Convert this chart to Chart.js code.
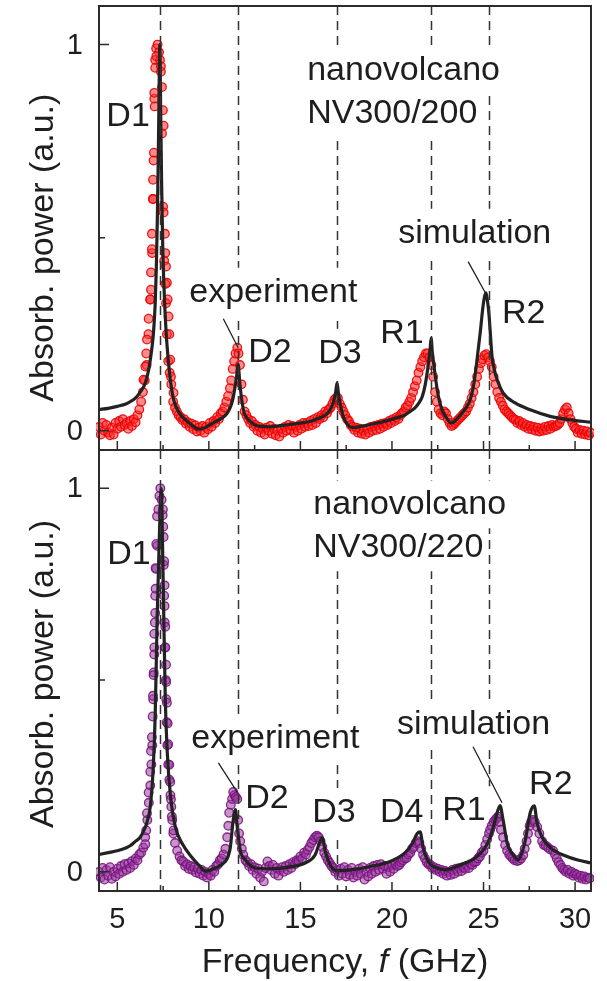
<!DOCTYPE html>
<html>
<head>
<meta charset="utf-8">
<script src="https://cdn.jsdelivr.net/npm/chart.js@4.4.1/dist/chart.umd.min.js"></script>
<style>
  html, body { margin: 0; padding: 0; background: #fff; }
  #wrap { position: relative; width: 607px; height: 981px; }
  canvas { position: absolute; left: 0; }
  #topChart { top: 0; }
  #bottomChart { top: 440px; }
</style>
</head>
<body>
<div id="wrap">
  <canvas id="topChart" width="607" height="460"></canvas>
  <canvas id="bottomChart" width="607" height="541"></canvas>
</div>
<script>
// ---- data (frequency in GHz, normalised absorbed power) ----

// dashed lines marking the NV300/200 mode positions
const modeLines = [7.35, 11.6, 17.0, 22.14, 25.3];

const xMajor = [5, 10, 15, 20, 25, 30];
const xMinor = [7.5, 12.5, 17.5, 22.5, 27.5];
const yMajor = [0, 1];
const yMinor = [0.5];

// NV300/200 simulation
const simTopFreq = [4.0, 4.5, 5.0, 5.5, 5.7, 6.0, 6.25, 6.5, 6.7, 6.85,
  6.97, 7.07, 7.13, 7.19, 7.24, 7.28, 7.32, 7.37, 7.42, 7.48,
  7.56, 7.66, 7.77, 7.9, 8.04, 8.2, 8.38, 8.6, 8.93, 9.2,
  9.42, 9.8, 10.08, 10.4, 10.73, 11.0, 11.17, 11.3, 11.4, 11.5,
  11.6, 11.68, 11.77, 11.93, 12.1, 12.26, 12.5, 12.8, 13.35, 13.9,
  14.44, 15.0, 15.53, 16.0, 16.35, 16.6, 16.79, 16.92, 17.0, 17.08,
  17.17, 17.34, 17.6, 17.88, 18.3, 18.81, 19.4, 19.9, 20.3, 20.72,
  21.0, 21.27, 21.5, 21.65, 21.82, 21.98, 22.08, 22.14, 22.2, 22.3,
  22.47, 22.6, 22.74, 22.95, 23.15, 23.29, 23.5, 23.83, 24.1, 24.27,
  24.45, 24.6, 24.81, 24.98, 25.08, 25.14, 25.22, 25.3, 25.47, 25.58,
  25.69, 26.07, 26.73, 27.55, 28.64, 29.73, 30.87];
const simTopVal = [0.055, 0.058, 0.063, 0.07, 0.075, 0.085, 0.1, 0.12, 0.155, 0.2,
  0.25, 0.33, 0.42, 0.56, 0.72, 0.87, 1.0, 0.82, 0.64, 0.48,
  0.36, 0.26, 0.19, 0.13, 0.088, 0.063, 0.046, 0.033, 0.02, 0.01,
  0.004, 0.008, 0.016, 0.024, 0.033, 0.045, 0.06, 0.08, 0.105, 0.135,
  0.172, 0.13, 0.089, 0.046, 0.032, 0.024, 0.015, 0.011, 0.01, 0.013,
  0.016, 0.02, 0.024, 0.032, 0.04, 0.052, 0.072, 0.098, 0.124, 0.095,
  0.07, 0.037, 0.014, 0.008, 0.011, 0.016, 0.022, 0.028, 0.034, 0.041,
  0.05, 0.06, 0.074, 0.088, 0.12, 0.17, 0.21, 0.24, 0.205, 0.166,
  0.106, 0.075, 0.054, 0.035, 0.022, 0.02, 0.028, 0.046, 0.063, 0.08,
  0.115, 0.166, 0.25, 0.325, 0.352, 0.357, 0.335, 0.3, 0.19, 0.16,
  0.14, 0.098, 0.072, 0.054, 0.037, 0.028, 0.022];

// NV300/200 experiment
const expTopFreq = [4.0, 4.1, 4.2, 4.3, 4.4, 4.5, 4.6, 4.7, 4.8, 4.9,
  5.0, 5.1, 5.2, 5.3, 5.4, 5.5, 5.6, 5.7, 5.8, 5.9,
  6.0, 6.1, 6.2, 6.3, 6.4, 6.5, 6.6, 6.7, 6.8, 6.9,
  6.95, 7.0, 7.02, 7.07, 7.12, 7.2, 7.28, 7.33, 7.38, 7.44,
  7.5, 7.56, 7.62, 7.66, 7.71, 7.78, 7.86, 7.95, 8.05, 8.15,
  8.25, 8.35, 8.45, 8.55, 8.65, 8.75, 8.85, 8.95, 9.05, 9.15,
  9.25, 9.35, 9.45, 9.55, 9.65, 9.75, 9.85, 9.95, 10.05, 10.15,
  10.25, 10.35, 10.45, 10.55, 10.65, 10.75, 10.85, 10.95, 11.05, 11.15,
  11.22, 11.3, 11.38, 11.46, 11.55, 11.62, 11.7, 11.78, 11.86, 11.95,
  12.05, 12.15, 12.25, 12.35, 12.45, 12.55, 12.65, 12.75, 12.85, 12.95,
  13.05, 13.15, 13.25, 13.35, 13.45, 13.55, 13.65, 13.75, 13.85, 13.95,
  14.05, 14.15, 14.25, 14.35, 14.45, 14.55, 14.65, 14.75, 14.85, 14.95,
  15.05, 15.15, 15.25, 15.35, 15.45, 15.55, 15.65, 15.75, 15.85, 15.95,
  16.05, 16.15, 16.25, 16.35, 16.45, 16.55, 16.65, 16.75, 16.85, 16.95,
  17.05, 17.15, 17.25, 17.35, 17.45, 17.55, 17.65, 17.75, 17.85, 17.95,
  18.05, 18.15, 18.25, 18.35, 18.45, 18.55, 18.65, 18.75, 18.85, 18.95,
  19.05, 19.15, 19.25, 19.35, 19.45, 19.55, 19.65, 19.75, 19.85, 19.95,
  20.05, 20.15, 20.25, 20.35, 20.45, 20.55, 20.65, 20.75, 20.85, 20.95,
  21.05, 21.15, 21.25, 21.35, 21.45, 21.55, 21.65, 21.75, 21.85, 21.95,
  22.05, 22.15, 22.25, 22.35, 22.45, 22.55, 22.65, 22.75, 22.85, 22.95,
  23.05, 23.15, 23.25, 23.35, 23.45, 23.55, 23.65, 23.75, 23.85, 23.95,
  24.05, 24.15, 24.25, 24.35, 24.45, 24.55, 24.65, 24.75, 24.85, 24.95,
  25.05, 25.15, 25.25, 25.35, 25.45, 25.55, 25.65, 25.75, 25.85, 25.95,
  26.05, 26.15, 26.25, 26.35, 26.45, 26.55, 26.65, 26.75, 26.85, 26.95,
  27.05, 27.15, 27.25, 27.35, 27.45, 27.55, 27.65, 27.75, 27.85, 27.95,
  28.05, 28.15, 28.25, 28.35, 28.45, 28.55, 28.65, 28.75, 28.85, 28.95,
  29.05, 29.15, 29.25, 29.35, 29.45, 29.55, 29.65, 29.75, 29.85, 29.95,
  30.05, 30.15, 30.25, 30.35, 30.45, 30.55, 30.65, 30.75, 30.85];
const expTopVal = [0.01, -0.01, 0.02, 0, 0.015, -0.005, -0.012, 0.008, -0.01, 0.02,
  0.005, 0.025, 0.01, 0.03, 0.015, 0.02, 0.005, 0.025, 0.012, 0.03,
  0.022, 0.04, 0.055, 0.075, 0.1, 0.13, 0.17, 0.25, 0.34, 0.46,
  0.6, 0.72, 0.86, 0.96, 0.99, 1.0, 0.98, 0.96, 0.93, 0.77,
  0.58, 0.44, 0.38, 0.33, 0.25, 0.18, 0.15, 0.12, 0.075, 0.06,
  0.05, 0.04, 0.035, 0.028, 0.03, 0.018, 0.022, 0.01, 0.018, 0.004,
  0.014, -0.002, 0.008, 0, 0.012, -0.005, 0.01, 0.004, 0.02, 0.01,
  0.025, 0.02, 0.035, 0.03, 0.045, 0.05, 0.06, 0.075, 0.09, 0.11,
  0.13, 0.16, 0.18, 0.2, 0.215, 0.2, 0.17, 0.12, 0.08, 0.05,
  0.04, 0.03, 0.02, 0.025, 0.01, 0.015, 0, 0.01, -0.005, 0.005,
  -0.01, 0.008, 0, 0.012, -0.008, 0.005, -0.012, 0, -0.015, 0.005,
  -0.005, 0.01, 0, 0.015, 0.002, 0.012, -0.005, 0.01, 0, 0.015,
  0.005, 0.02, 0.01, 0.02, 0.012, 0.025, 0.015, 0.03, 0.02, 0.035,
  0.03, 0.04, 0.035, 0.05, 0.045, 0.055, 0.06, 0.07, 0.08, 0.085,
  0.085, 0.07, 0.06, 0.05, 0.04, 0.03, 0.025, 0.015, 0.01, 0.002,
  0.008, -0.005, 0.005, -0.008, 0, -0.01, 0.005, -0.005, 0.01, 0,
  0.012, 0.002, 0.015, 0.005, 0.018, 0.01, 0.02, 0.015, 0.025, 0.02,
  0.03, 0.025, 0.035, 0.03, 0.04, 0.045, 0.05, 0.06, 0.065, 0.075,
  0.085, 0.1, 0.115, 0.13, 0.15, 0.165, 0.18, 0.19, 0.2, 0.2,
  0.19, 0.17, 0.14, 0.1, 0.075, 0.055, 0.045, 0.04, 0.05, 0.045,
  0.03, 0.02, 0.012, 0.015, 0.02, 0.025, 0.03, 0.035, 0.04, 0.045,
  0.05, 0.06, 0.07, 0.085, 0.1, 0.12, 0.14, 0.16, 0.175, 0.185,
  0.195, 0.198, 0.19, 0.18, 0.165, 0.14, 0.12, 0.1, 0.085, 0.075,
  0.065, 0.055, 0.05, 0.045, 0.04, 0.035, 0.03, 0.028, 0.02, 0.025,
  0.015, 0.02, 0.01, 0.015, 0.005, 0.012, 0.003, 0.01, 0, 0.008,
  -0.002, 0.005, 0, 0.01, 0.002, 0.012, 0.005, 0.015, 0.01, 0.012,
  0.015, 0.02, 0.03, 0.045, 0.055, 0.06, 0.045, 0.03, 0.02, 0.01,
  0.005, -0.005, 0.002, -0.008, 0, -0.01, -0.002, -0.012, -0.005];
// extra points read along the steep flanks of the D1 peak
const expTopPeakFreq = [6.43, 6.53, 6.58, 6.62, 6.71, 6.8, 6.84, 6.84, 6.89, 6.89,
  6.95, 6.95, 6.98, 7.04, 7.02, 7.07, 7.13,
  7.38, 7.44, 7.49, 7.53, 7.53, 7.6, 7.62, 7.66, 7.71, 7.75,
  7.8, 7.84, 7.89, 7.93, 8.07];
const expTopPeakVal = [0.132, 0.166, 0.2, 0.236, 0.29, 0.34, 0.365, 0.41, 0.47, 0.51,
  0.6, 0.65, 0.7, 0.84, 0.875, 0.94, 0.97,
  0.944, 0.89, 0.83, 0.79, 0.565, 0.51, 0.46, 0.425, 0.383, 0.34,
  0.296, 0.25, 0.184, 0.14, 0.098];

// NV300/220 simulation
const simBotFreq = [4.0, 4.5, 5.0, 5.5, 5.7, 6.0, 6.25, 6.45, 6.6, 6.8,
  6.96, 7.07, 7.18, 7.3, 7.4, 7.5, 7.62, 7.73, 7.9, 8.17,
  8.55, 9.1, 9.5, 9.8, 10.35, 10.9, 11.05, 11.17, 11.33, 11.45,
  11.55, 11.72, 12.0, 12.53, 13.35, 14.44, 15.26, 15.8, 16.0, 16.2,
  16.35, 16.63, 17.0, 17.72, 18.8, 19.9, 20.72, 21.1, 21.38, 21.54,
  21.7, 21.98, 22.47, 22.9, 23.72, 24.54, 25.09, 25.36, 25.64, 25.9,
  26.07, 26.3, 26.6, 26.9, 27.1, 27.28, 27.55, 27.77, 27.93, 28.2,
  28.64, 29.46, 30.2, 30.87];
const simBotVal = [0.045, 0.05, 0.055, 0.063, 0.068, 0.08, 0.09, 0.108, 0.126, 0.17,
  0.27, 0.41, 0.67, 0.88, 1.0, 0.77, 0.45, 0.31, 0.2, 0.117,
  0.073, 0.036, 0.015, 0.002, 0.01, 0.027, 0.04, 0.063, 0.135, 0.162,
  0.117, 0.055, 0.031, 0.01, 0.008, 0.013, 0.023, 0.044, 0.07, 0.089,
  0.055, 0.018, 0.003, 0.005, 0.014, 0.027, 0.05, 0.073, 0.1, 0.104,
  0.063, 0.027, 0.01, 0.005, 0.018, 0.036, 0.063, 0.09, 0.135, 0.173,
  0.135, 0.073, 0.045, 0.031, 0.05, 0.081, 0.154, 0.172, 0.126, 0.09,
  0.063, 0.042, 0.03, 0.023];

// NV300/220 experiment
const expBotFreq = [4.0, 4.1, 4.2, 4.3, 4.4, 4.5, 4.6, 4.7, 4.8, 4.9,
  5.0, 5.1, 5.2, 5.3, 5.4, 5.5, 5.6, 5.7, 5.8, 5.9,
  6.0, 6.1, 6.2, 6.3, 6.42, 6.52, 6.64, 6.72, 6.8, 6.86,
  6.91, 6.96, 6.99, 7.02, 7.05, 7.07, 7.12, 7.18, 7.24, 7.3,
  7.35, 7.42, 7.48, 7.51, 7.54, 7.56, 7.59, 7.62, 7.65, 7.67,
  7.7, 7.73, 7.78, 7.84, 7.9, 7.95, 8.0, 8.06, 8.15, 8.27,
  8.4, 8.5, 8.6, 8.7, 8.8, 8.9, 9.0, 9.1, 9.2, 9.3,
  9.4, 9.5, 9.6, 9.7, 9.8, 9.9, 10.0, 10.1, 10.2, 10.3,
  10.4, 10.5, 10.6, 10.7, 10.8, 10.9, 11.0, 11.06, 11.11, 11.2,
  11.27, 11.33, 11.4, 11.47, 11.55, 11.6, 11.65, 11.71, 11.8, 11.88,
  12.0, 12.1, 12.2, 12.3, 12.4, 12.5, 12.6, 12.7, 12.8, 12.9,
  13.0, 13.1, 13.2, 13.3, 13.4, 13.5, 13.6, 13.7, 13.8, 13.9,
  14.0, 14.1, 14.2, 14.3, 14.4, 14.5, 14.6, 14.7, 14.8, 14.9,
  15.0, 15.1, 15.2, 15.3, 15.4, 15.5, 15.6, 15.7, 15.8, 15.9,
  16.0, 16.1, 16.2, 16.3, 16.4, 16.5, 16.6, 16.7, 16.8, 16.9,
  17.0, 17.1, 17.2, 17.3, 17.4, 17.5, 17.6, 17.7, 17.8, 17.9,
  18.0, 18.1, 18.2, 18.3, 18.4, 18.5, 18.6, 18.7, 18.8, 18.9,
  19.0, 19.1, 19.2, 19.3, 19.4, 19.5, 19.6, 19.7, 19.8, 19.9,
  20.0, 20.1, 20.2, 20.3, 20.4, 20.5, 20.6, 20.7, 20.8, 20.9,
  21.0, 21.1, 21.2, 21.3, 21.4, 21.5, 21.6, 21.7, 21.8, 21.9,
  22.0, 22.1, 22.2, 22.3, 22.4, 22.5, 22.6, 22.7, 22.8, 22.9,
  23.0, 23.1, 23.2, 23.3, 23.4, 23.5, 23.6, 23.7, 23.8, 23.9,
  24.0, 24.1, 24.2, 24.3, 24.4, 24.5, 24.6, 24.7, 24.8, 24.9,
  25.0, 25.1, 25.2, 25.3, 25.36, 25.45, 25.55, 25.64, 25.72, 25.8,
  25.88, 25.95, 26.07, 26.18, 26.29, 26.4, 26.5, 26.6, 26.7, 26.84,
  26.95, 27.05, 27.17, 27.25, 27.35, 27.43, 27.52, 27.6, 27.7, 27.8,
  27.93, 28.05, 28.2, 28.3, 28.4, 28.53, 28.65, 28.8, 28.9, 29.0,
  29.1, 29.2, 29.3, 29.4, 29.5, 29.6, 29.7, 29.8, 29.9, 30.0,
  30.1, 30.2, 30.3, 30.4, 30.5, 30.6, 30.7, 30.8];
const expBotVal = [0, -0.015, 0.01, -0.02, 0.005, -0.01, 0.012, -0.018, 0, -0.012,
  0.008, -0.005, 0.015, 0, 0.02, 0.005, 0.022, 0.01, 0.028, 0.018,
  0.035, 0.03, 0.045, 0.05, 0.063, 0.09, 0.135, 0.18, 0.225, 0.28,
  0.33, 0.45, 0.52, 0.585, 0.65, 0.72, 0.79, 0.85, 0.945, 0.98,
  1.0, 0.97, 0.93, 0.9, 0.8, 0.72, 0.65, 0.585, 0.5, 0.45,
  0.39, 0.33, 0.28, 0.24, 0.2, 0.17, 0.135, 0.1, 0.075, 0.055,
  0.04, 0.03, 0.027, 0.015, 0.02, 0.008, 0.015, 0.005, 0.012, -0.002,
  0.008, -0.005, 0.005, -0.01, 0, -0.015, -0.005, -0.01, 0.005, 0,
  0.015, 0.02, 0.03, 0.035, 0.045, 0.06, 0.09, 0.12, 0.154, 0.175,
  0.19, 0.208, 0.2, 0.195, 0.19, 0.135, 0.1, 0.08, 0.06, 0.044,
  0.03, 0.025, 0.015, 0.02, 0.005, 0.012, -0.005, 0.008, -0.015, 0,
  -0.025, 0.01, 0.027, 0.015, 0.005, 0.018, -0.005, 0.01, -0.01, 0.005,
  0.012, 0, 0.015, 0.005, 0.02, 0.01, 0.025, 0.02, 0.03, 0.028,
  0.04, 0.035, 0.05, 0.045, 0.057, 0.065, 0.075, 0.083, 0.09, 0.094,
  0.09, 0.08, 0.065, 0.05, 0.04, 0.03, 0.023, 0.015, 0.01, 0,
  0.005, -0.01, 0.008, -0.005, 0.012, -0.012, 0.005, -0.008, 0.01, -0.015,
  0, -0.01, 0.008, -0.005, 0.012, -0.02, 0, -0.012, 0.01, -0.005,
  0.015, 0, 0.018, 0.005, 0.02, 0.008, 0.015, -0.005, 0.012, 0,
  0.018, 0.008, 0.02, 0.015, 0.018, 0.025, 0.03, 0.035, 0.036, 0.045,
  0.05, 0.06, 0.065, 0.075, 0.08, 0.075, 0.06, 0.044, 0.035, 0.025,
  0.02, 0.018, 0.01, 0.012, 0.005, 0.008, 0, 0.005, -0.005, 0.002,
  -0.01, 0, -0.008, 0.005, -0.005, 0.008, 0, 0.01, 0.002, 0.012,
  0.008, 0.015, 0.01, 0.02, 0.018, 0.025, 0.027, 0.035, 0.04, 0.05,
  0.055, 0.07, 0.085, 0.1, 0.11, 0.12, 0.13, 0.135, 0.14, 0.144,
  0.13, 0.11, 0.09, 0.07, 0.055, 0.045, 0.04, 0.035, 0.03, 0.028,
  0.03, 0.035, 0.044, 0.06, 0.08, 0.1, 0.12, 0.13, 0.135, 0.13,
  0.117, 0.1, 0.08, 0.07, 0.068, 0.063, 0.058, 0.055, 0.045, 0.035,
  0.025, 0.018, 0.01, 0.005, 0, 0.005, -0.005, 0, -0.01, -0.005,
  -0.008, -0.015, -0.01, -0.018, -0.012, -0.02, -0.015, -0.017];
// extra points read along the steep flanks of the D1 peak
const expBotPeakFreq = [6.53, 6.58, 6.62, 6.71, 6.8, 6.84, 6.89, 6.93, 6.95, 6.98,
  7.02, 7.02, 7.07, 7.09, 7.09, 7.13, 7.17,
  7.49, 7.53, 7.56, 7.58, 7.58, 7.62, 7.62, 7.66, 7.67, 7.71,
  7.75, 7.78, 7.84, 7.89, 7.93, 7.98, 8.07];
const expBotPeakVal = [0.072, 0.108, 0.153, 0.207, 0.261, 0.315, 0.351, 0.405, 0.459, 0.513,
  0.567, 0.621, 0.675, 0.738, 0.792, 0.855, 0.927,
  0.945, 0.873, 0.81, 0.747, 0.693, 0.639, 0.585, 0.54, 0.495, 0.441,
  0.387, 0.333, 0.279, 0.234, 0.189, 0.144, 0.108];

// annotation anchors in data units (left edge, text baseline)
const topLabels = [
  { text: "D1", f: 4.4, v: 0.79 },
  { text: "nanovolcano", f: 15.37, v: 0.909 },
  { text: "NV300/200", f: 15.37, v: 0.798 },
  { text: "simulation", f: 20.34, v: 0.487 },
  { text: "experiment", f: 8.93, v: 0.334 },
  { text: "D2", f: 12.15, v: 0.179 },
  { text: "D3", f: 15.97, v: 0.176 },
  { text: "R1", f: 19.36, v: 0.228 },
  { text: "R2", f: 26.01, v: 0.28 },
];
const topLeaders = [
  [10.79, 0.29, 11.6, 0.215],
  [24.16, 0.438, 25.09, 0.358],
];
const botLabels = [
  { text: "D1", f: 4.45, v: 0.802 },
  { text: "nanovolcano", f: 15.7, v: 0.932 },
  { text: "NV300/220", f: 15.7, v: 0.82 },
  { text: "simulation", f: 20.28, v: 0.359 },
  { text: "experiment", f: 9.04, v: 0.323 },
  { text: "D2", f: 11.99, v: 0.167 },
  { text: "D3", f: 15.64, v: 0.13 },
  { text: "D4", f: 19.35, v: 0.13 },
  { text: "R1", f: 22.74, v: 0.135 },
  { text: "R2", f: 27.49, v: 0.203 },
];
const botLeaders = [
  [10.52, 0.284, 11.55, 0.208],
  [24.43, 0.326, 26.01, 0.18],
];

// ---- drawing ----
const FAMILY = '"Liberation Sans", Arial, sans-serif';
const TEXT = "#1e1e1e";
const LABEL_SIZE = 34;
const TICK_SIZE = 29;

const toPoints = (fs, vs) => fs.map((f, i) => ({ x: f, y: vs[i] }));

// frame, inward ticks, tick labels, dashed mode lines, labels and titles
const panelDeco = {
  id: "panelDeco",
  afterDatasetsDraw(chart, args, opts) {
    const { ctx, chartArea: a } = chart;
    const x = chart.scales.x, y = chart.scales.y;
    ctx.save();

    // label boxes, the dashed lines stop at them
    ctx.font = LABEL_SIZE + "px " + FAMILY;
    const boxes = opts.labels.map((l) => {
      const w = ctx.measureText(l.text).width;
      const px = x.getPixelForValue(l.f);
      const py = y.getPixelForValue(l.v);
      return { x0: px - 6, x1: px + w + 6, y0: py - LABEL_SIZE * 0.82 - 6, y1: py + LABEL_SIZE * 0.23 + 6 };
    });

    ctx.strokeStyle = "#333";
    ctx.lineWidth = 1.5;
    ctx.setLineDash([9, 6]);
    modeLines.forEach((f) => {
      const px = Math.round(x.getPixelForValue(f)) + 0.5;
      const cuts = boxes
        .filter((b) => px >= b.x0 && px <= b.x1)
        .map((b) => [b.y0, b.y1])
        .sort((p, q) => p[0] - q[0]);
      let start = a.top;
      const segs = [];
      cuts.forEach((c) => {
        if (c[0] > start) segs.push([start, c[0]]);
        start = Math.max(start, c[1]);
      });
      if (start < a.bottom) segs.push([start, a.bottom]);
      segs.forEach((s) => {
        ctx.lineDashOffset = s[0] - a.top;
        ctx.beginPath();
        ctx.moveTo(px, s[0]);
        ctx.lineTo(px, s[1]);
        ctx.stroke();
      });
    });
    ctx.setLineDash([]);
    ctx.lineDashOffset = 0;

    // frame
    ctx.strokeStyle = "#2b2b2b";
    ctx.lineWidth = 2;
    ctx.strokeRect(a.left, a.top, a.right - a.left, a.bottom - a.top);

    // inward ticks
    ctx.lineWidth = 1.5;
    ctx.beginPath();
    xMajor.forEach((v) => {
      const px = x.getPixelForValue(v);
      ctx.moveTo(px, a.bottom);
      ctx.lineTo(px, a.bottom - 9);
    });
    xMinor.forEach((v) => {
      const px = x.getPixelForValue(v);
      ctx.moveTo(px, a.bottom);
      ctx.lineTo(px, a.bottom - 5);
    });
    yMajor.forEach((v) => {
      const py = y.getPixelForValue(v);
      ctx.moveTo(a.left, py);
      ctx.lineTo(a.left + 10, py);
    });
    yMinor.forEach((v) => {
      const py = y.getPixelForValue(v);
      ctx.moveTo(a.left, py);
      ctx.lineTo(a.left + 6, py);
    });
    ctx.stroke();

    // tick labels
    ctx.fillStyle = TEXT;
    ctx.font = TICK_SIZE + "px " + FAMILY;
    ctx.textAlign = "right";
    ctx.textBaseline = "middle";
    yMajor.forEach((v) => {
      ctx.fillText(String(v), a.left - 16, y.getPixelForValue(v) + 1);
    });
    if (opts.xTitle) {
      ctx.textAlign = "center";
      ctx.textBaseline = "alphabetic";
      xMajor.forEach((v) => {
        ctx.fillText(String(v), x.getPixelForValue(v), a.bottom + 37);
      });
    }

    // leader lines
    ctx.strokeStyle = "#222";
    ctx.lineWidth = 1.3;
    ctx.beginPath();
    opts.leaders.forEach((l) => {
      ctx.moveTo(x.getPixelForValue(l[0]), y.getPixelForValue(l[1]));
      ctx.lineTo(x.getPixelForValue(l[2]), y.getPixelForValue(l[3]));
    });
    ctx.stroke();

    // labels
    ctx.font = LABEL_SIZE + "px " + FAMILY;
    ctx.textAlign = "left";
    ctx.textBaseline = "alphabetic";
    opts.labels.forEach((l) => {
      ctx.fillText(l.text, x.getPixelForValue(l.f), y.getPixelForValue(l.v));
    });

    // y title
    ctx.save();
    ctx.translate(a.left - 46, y.getPixelForValue(opts.titleAt));
    ctx.rotate(-Math.PI / 2);
    ctx.textAlign = "center";
    ctx.fillText("Absorb. power (a.u.)", 0, 0);
    ctx.restore();

    // x title with italic f
    if (opts.xTitle) {
      const parts = [
        ["Frequency, ", ""],
        ["f", "italic "],
        [" (GHz)", ""],
      ];
      let total = 0;
      parts.forEach((p) => {
        ctx.font = p[1] + LABEL_SIZE + "px " + FAMILY;
        p.push(ctx.measureText(p[0]).width);
        total += p[2];
      });
      let cx = (a.left + a.right) / 2 - total / 2;
      parts.forEach((p) => {
        ctx.font = p[1] + LABEL_SIZE + "px " + FAMILY;
        ctx.fillText(p[0], cx, a.bottom + 81);
        cx += p[2];
      });
    }
    ctx.restore();
  },
};

function makePanel(id, simF, simV, expF, expV, peakF, peakV, color, fill, deco, padTop, xHeight) {
  return new Chart(document.getElementById(id), {
    type: "scatter",
    data: {
      datasets: [
        {
          label: "simulation",
          data: toPoints(simF, simV),
          showLine: true,
          borderColor: "#222",
          borderWidth: 3.2,
          pointRadius: 0,
          cubicInterpolationMode: "monotone",
          order: 0,
        },
        {
          label: "experiment",
          data: toPoints(expF, expV).concat(toPoints(peakF, peakV)),
          pointRadius: 4.3,
          borderWidth: 1.3,
          borderColor: color,
          backgroundColor: fill,
          order: 1,
          clip: 3,
        },
      ],
    },
    options: {
      responsive: false,
      animation: false,
      layout: { padding: { top: padTop, right: 16, left: 0, bottom: 0 } },
      plugins: {
        legend: { display: false },
        tooltip: { enabled: false },
        panelDeco: deco,
      },
      scales: {
        x: {
          type: "linear",
          min: 4,
          max: 30.87,
          grid: { display: false, drawTicks: false },
          border: { display: false },
          ticks: { display: false },
          afterFit: (s) => { s.height = xHeight; },
        },
        y: {
          min: -0.05,
          max: 1.1,
          grid: { display: false, drawTicks: false },
          border: { display: false },
          ticks: { display: false },
          afterFit: (s) => { s.width = 99; },
        },
      },
    },
    plugins: [panelDeco],
  });
}

makePanel("topChart", simTopFreq, simTopVal, expTopFreq, expTopVal,
  expTopPeakFreq, expTopPeakVal,
  "rgba(235,0,0,0.9)", "rgba(255,45,45,0.55)",
  { labels: topLabels, leaders: topLeaders, titleAt: 0.474, xTitle: false },
  6, 10);

makePanel("bottomChart", simBotFreq, simBotVal, expBotFreq, expBotVal,
  expBotPeakFreq, expBotPeakVal,
  "rgba(120,20,125,0.9)", "rgba(155,60,160,0.55)",
  { labels: botLabels, leaders: botLeaders, titleAt: 0.516, xTitle: true },
  10, 90);
</script>
</body>
</html>
